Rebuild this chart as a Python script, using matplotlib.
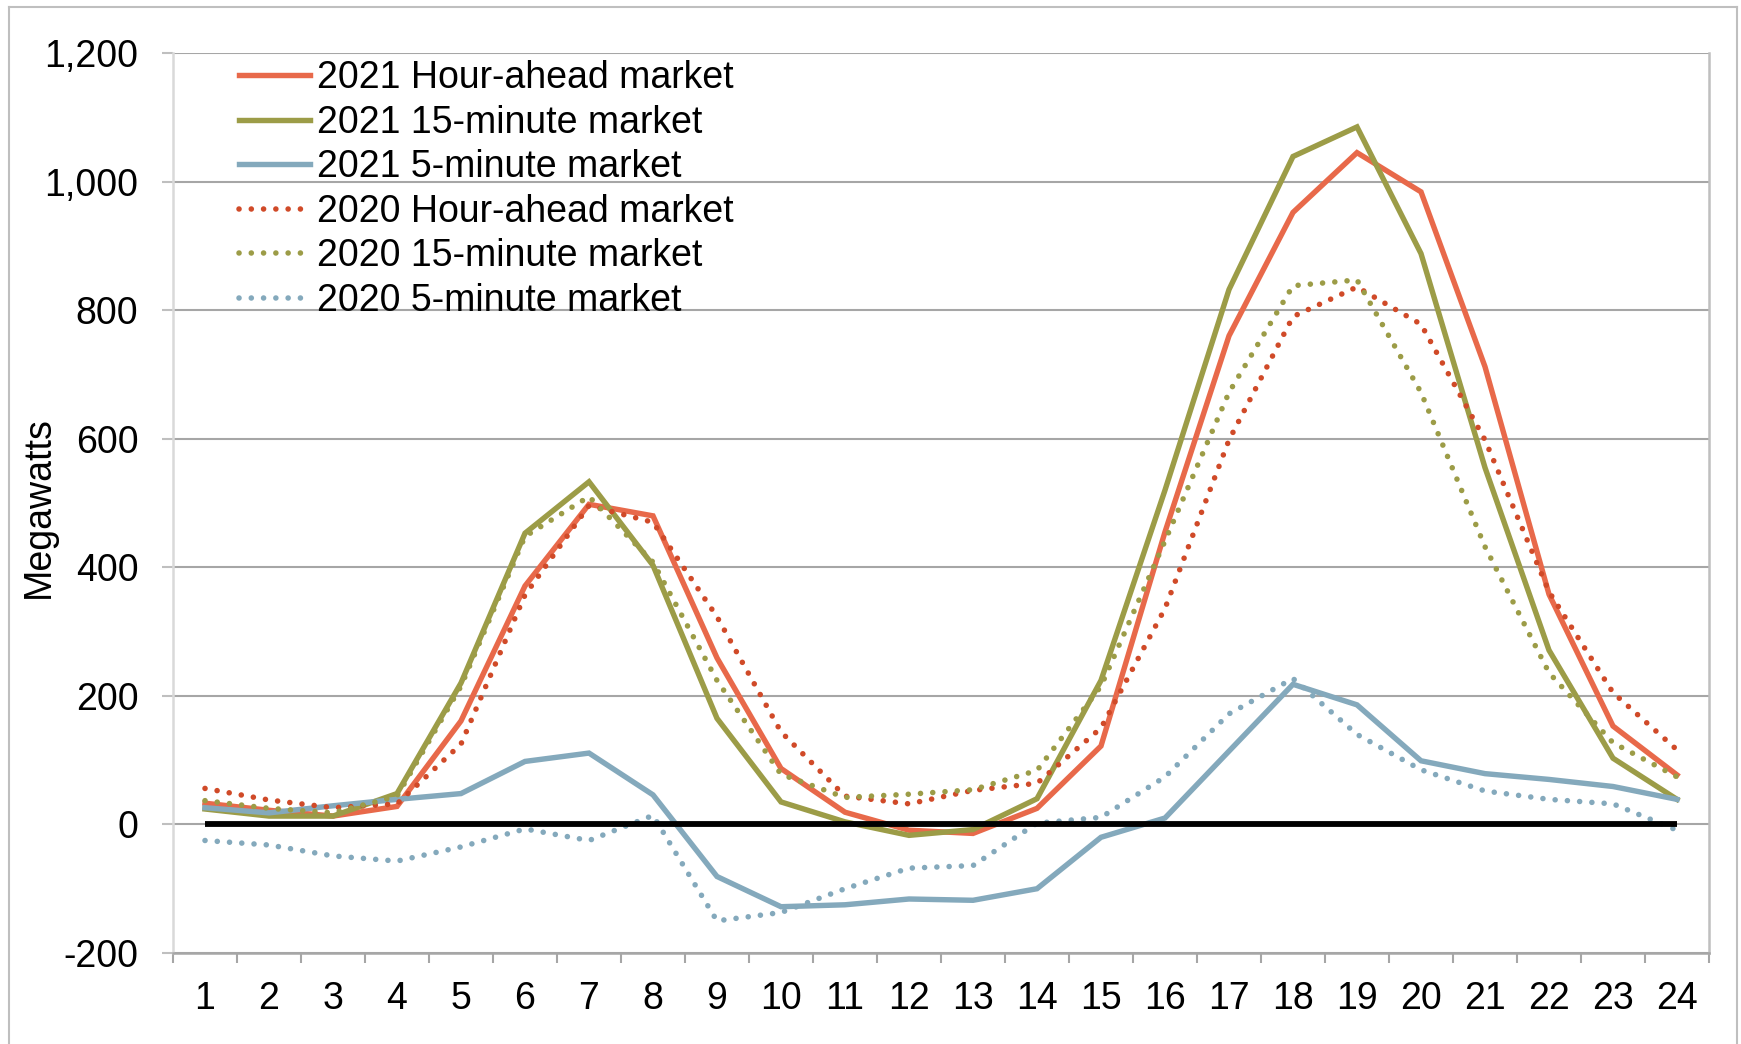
import matplotlib
matplotlib.use("Agg")
import matplotlib.pyplot as plt
from matplotlib.lines import Line2D
from matplotlib.ticker import FuncFormatter, FixedLocator

plt.rcParams['font.family'] = ['Liberation Sans', 'DejaVu Sans']

hours = list(range(1, 25))

ha_2021 = [33, 22, 13, 28, 161, 371, 498, 480, 259, 87, 19, -9,
           -14, 25, 122, 455, 760, 952, 1045, 984, 712, 358, 153, 77]
fm15_2021 = [24, 13, 13, 48, 220, 453, 533, 403, 165, 35, 4, -17,
             -8, 40, 224, 520, 832, 1039, 1085, 888, 555, 271, 103, 39]
fm5_2021 = [26, 18, 29, 39, 48, 98, 111, 46, -81, -128, -125, -116,
            -118, -100, -20, 10, 114, 218, 186, 99, 79, 70, 59, 39]
ha_2020 = [56, 38, 26, 32, 125, 357, 496, 470, 323, 144, 44, 32,
           53, 64, 150, 336, 598, 790, 836, 778, 598, 362, 205, 116]
fm15_2020 = [37, 25, 18, 44, 215, 448, 510, 408, 224, 78, 42, 47,
             54, 84, 215, 441, 672, 838, 847, 672, 432, 236, 127, 74]
fm5_2020 = [-25, -32, -49, -57, -35, -7, -25, 14, -150, -137, -100, -68,
            -64, 2, 11, 74, 172, 227, 140, 85, 52, 39, 32, -9]
baseline = [0] * 24

y_ticks = [-200, 0, 200, 400, 600, 800, 1000, 1200]

ORANGE = '#E8694A'
OLIVE = '#9C9C47'
BLUE = '#84A9BC'
RED_DOT = '#D04A28'
FS = 27

W, H = 1741, 1044
fig = plt.figure(figsize=(W / 100, H / 100), dpi=100)
ax = fig.add_axes([173 / W, 1 - 953 / H, (1709 - 173) / W, (953 - 53) / H])

solid = dict(linewidth=3.9, solid_joinstyle='miter')
dotted = dict(linewidth=4.0, linestyle=(0, (0.01, 2.2)), dash_capstyle='round')

ax.plot(hours, ha_2021, color=ORANGE, label='2021 Hour-ahead market', **solid)
ax.plot(hours, fm15_2021, color=OLIVE, label='2021 15-minute market', **solid)
ax.plot(hours, fm5_2021, color=BLUE, label='2021 5-minute market', **solid)
ax.plot(hours, ha_2020, color=RED_DOT, label='2020 Hour-ahead market', **dotted)
ax.plot(hours, fm15_2020, color=OLIVE, label='2020 15-minute market', **dotted)
ax.plot(hours, fm5_2020, color=BLUE, label='2020 5-minute market', **dotted)
ax.plot(hours, baseline, color='black', linewidth=4.2, solid_capstyle='butt')

ax.set_xlim(0.5, 24.5)
ax.set_ylim(-200, 1200)

# category labels centred, tick marks on category boundaries
ax.set_xticks(hours)
ax.set_xticklabels([str(h) for h in hours])
ax.xaxis.set_minor_locator(FixedLocator([h + 0.5 for h in range(0, 25)]))
ax.tick_params(axis='x', which='major', length=0, pad=20.5, labelsize=FS)
ax.tick_params(axis='x', which='minor', length=7.5, width=1.5, color='#A6A6A6',
               direction='out')

ax.set_yticks(y_ticks)
ax.yaxis.set_major_formatter(FuncFormatter(lambda v, p: f"{int(v):,}"))
ax.tick_params(axis='y', which='major', length=8, width=1.5, color='#BFBFBF',
               pad=17, labelsize=FS)

ax.grid(axis='y', color='#A6A6A6', linewidth=1.5)
ax.set_axisbelow(True)

ax.spines['top'].set_visible(False)
ax.spines['left'].set_color('#D9D9D9')
ax.spines['left'].set_linewidth(1.8)
ax.spines['bottom'].set_color('#A6A6A6')
ax.spines['bottom'].set_linewidth(1.8)
ax.spines['right'].set_color('#BFBFBF')
ax.spines['right'].set_linewidth(1.8)

fig.text(39 / W, 1 - 507 / H, 'Megawatts', rotation=90, ha='center',
         va='center', fontsize=FS)

handles, labels = ax.get_legend_handles_labels()
ax.legend(handles[:6], labels[:6], loc='upper left',
          bbox_to_anchor=(239 / W, 1 - 60 / H), bbox_transform=fig.transFigure,
          frameon=False, fontsize=FS, borderpad=0, borderaxespad=0,
          handlelength=1.9, handletextpad=0.17, labelspacing=0.23)

# outer chart frame (left, top, right edges; bottom edge falls outside the image)
frame = dict(color='#BFBFBF', linewidth=1.5, transform=fig.transFigure)
x0, x1 = 9 / W, 1737 / W
y_top = 1 - 7 / H
fig.add_artist(Line2D([x0, x0], [0, y_top], **frame))
fig.add_artist(Line2D([x0, x1], [y_top, y_top], **frame))
fig.add_artist(Line2D([x1, x1], [0, y_top], **frame))

fig.savefig('out.png', dpi=100)
